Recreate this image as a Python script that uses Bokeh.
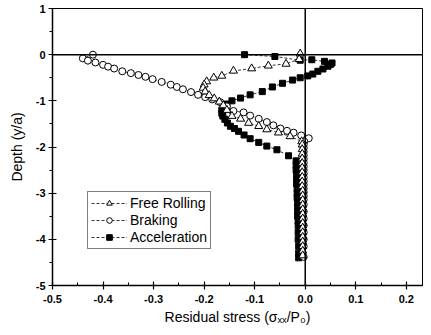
from bokeh.plotting import figure
from bokeh.models import Range1d, FixedTicker, Span, Legend, LegendItem
from bokeh.embed import file_html
from bokeh.resources import INLINE

# ---------------- data ----------------
fr_x = [-0.010, -0.012, -0.038, -0.073, -0.106, -0.142, -0.165, -0.181, -0.195, -0.200,
        -0.202, -0.198, -0.190, -0.180, -0.170, -0.162, -0.155, -0.145, -0.128, -0.112,
        -0.092, -0.076, -0.053, -0.030, -0.007, -0.006, -0.006, -0.006, -0.006, -0.006,
        -0.006, -0.006, -0.006, -0.006, -0.006, -0.005, -0.005, -0.005, -0.005, -0.005,
        -0.005, -0.005, -0.005, -0.005, -0.005, -0.005, -0.005, -0.005, -0.005, -0.005]
fr_y = [0.02, -0.10, -0.20, -0.24, -0.30, -0.35, -0.46, -0.50, -0.58, -0.65,
        -0.72, -0.80, -0.88, -0.95, -1.02, -1.10, -1.20, -1.33, -1.39, -1.48,
        -1.55, -1.62, -1.69, -1.77, -1.88, -1.95, -2.05, -2.15, -2.25, -2.35,
        -2.45, -2.55, -2.65, -2.75, -2.85, -2.95, -3.05, -3.15, -3.25, -3.35,
        -3.45, -3.55, -3.65, -3.75, -3.85, -3.95, -4.05, -4.15, -4.25, -4.35]

br_x = [-0.420, -0.440, -0.430, -0.415, -0.400, -0.390, -0.378, -0.362, -0.345, -0.330,
        -0.316, -0.302, -0.284, -0.266, -0.254, -0.242, -0.226, -0.212, -0.198, -0.184,
        -0.168, -0.155, -0.142, -0.122, -0.109, -0.092, -0.076, -0.063, -0.049, -0.036,
        -0.023, -0.008, 0.007, -0.002, -0.003, -0.003, -0.003, -0.003, -0.003, -0.003,
        -0.003, -0.003, -0.003, -0.003, -0.003, -0.003, -0.003, -0.003, -0.003, -0.003,
        -0.003, -0.003, -0.003, -0.003, -0.003, -0.003, -0.003, -0.003]
br_y = [0.00, -0.08, -0.13, -0.17, -0.22, -0.26, -0.30, -0.36, -0.40, -0.44,
        -0.48, -0.53, -0.59, -0.65, -0.70, -0.75, -0.81, -0.87, -0.92, -0.97,
        -1.03, -1.12, -1.22, -1.25, -1.32, -1.39, -1.46, -1.53, -1.60, -1.65,
        -1.69, -1.75, -1.81, -1.88, -1.95, -2.02, -2.10, -2.18, -2.26, -2.34,
        -2.42, -2.50, -2.58, -2.66, -2.74, -2.82, -2.90, -2.98, -3.06, -3.14,
        -3.25, -3.40, -3.55, -3.70, -3.85, -4.00, -4.15, -4.38]

ac_x = [-0.120, -0.060, -0.010, 0.013, 0.038, 0.053, 0.050, 0.045, 0.035, 0.025,
        0.015, 0.005, -0.010, -0.025, -0.045, -0.065, -0.085, -0.109, -0.128, -0.145,
        -0.155, -0.162, -0.165, -0.165, -0.163, -0.159, -0.154, -0.148, -0.140, -0.132,
        -0.121, -0.109, -0.092, -0.076, -0.056, -0.033, -0.018, -0.018, -0.018, -0.017,
        -0.017, -0.017, -0.016, -0.016, -0.016, -0.015, -0.015, -0.015, -0.015, -0.014,
        -0.014, -0.014, -0.014, -0.013, -0.013, -0.013]
ac_y = [0.00, -0.04, -0.12, -0.11, -0.145, -0.18, -0.21, -0.25, -0.31, -0.36,
        -0.42, -0.46, -0.50, -0.55, -0.62, -0.70, -0.80, -0.87, -0.94, -1.00,
        -1.07, -1.13, -1.20, -1.27, -1.33, -1.40, -1.48, -1.55, -1.60, -1.66,
        -1.74, -1.82, -1.90, -1.98, -2.06, -2.19, -2.30, -2.40, -2.50, -2.60,
        -2.70, -2.80, -2.90, -3.00, -3.10, -3.20, -3.30, -3.40, -3.50, -3.60,
        -3.70, -3.85, -4.00, -4.15, -4.30, -4.40]

x_ticks = [-0.5, -0.4, -0.3, -0.2, -0.1, 0.0, 0.1, 0.2]
x_tick_labels = ["-0.5", "-0.4", "-0.3", "-0.2", "-0.1", "0.0", "0.1", "0.2"]
y_ticks = [1, 0, -1, -2, -3, -4, -5]
y_tick_labels = ["1", "0", "-1", "-2", "-3", "-4", "-5"]
x_minor = [-0.45, -0.35, -0.25, -0.15, -0.05, 0.05, 0.15]
y_minor = [0.5, -0.5, -1.5, -2.5, -3.5, -4.5]

series_names = ["Free Rolling", "Braking", "Acceleration"]

# ---------------- figure ----------------
FONT = "Liberation Sans"
p = figure(width=423, height=327, output_backend="svg", toolbar_location=None,
           x_range=Range1d(-0.5, 0.232), y_range=Range1d(-5, 1),
           min_border_left=52, min_border_right=1, min_border_top=8, min_border_bottom=41)
p.background_fill_color = "white"
p.border_fill_color = "white"
p.outline_line_color = "black"
p.outline_line_width = 1
p.xgrid.visible = False
p.ygrid.visible = False

p.xaxis.ticker = FixedTicker(ticks=x_ticks, minor_ticks=x_minor)
p.yaxis.ticker = FixedTicker(ticks=y_ticks, minor_ticks=y_minor)
p.xaxis.major_label_overrides = {t: l for t, l in zip(x_ticks, x_tick_labels)}
p.yaxis.major_label_overrides = {t: l for t, l in zip(y_ticks, y_tick_labels)}

for ax in (p.xaxis[0], p.yaxis[0]):
    ax.axis_line_color = "black"
    ax.axis_line_width = 1.5
    ax.major_tick_line_color = "black"
    ax.major_tick_line_width = 1.2
    ax.major_tick_in = 4
    ax.major_tick_out = 4
    ax.minor_tick_line_color = "black"
    ax.minor_tick_line_width = 1
    ax.major_label_text_font = FONT
    ax.major_label_text_font_style = "bold"
    ax.major_label_text_font_size = "11px"
    ax.major_label_text_color = "black"
    ax.axis_label_text_font = FONT
    ax.axis_label_text_font_style = "normal"
    ax.axis_label_text_font_size = "14px"
    ax.axis_label_text_color = "black"

p.xaxis.minor_tick_in = 3
p.xaxis.minor_tick_out = 0
p.yaxis.minor_tick_in = 0
p.yaxis.minor_tick_out = 3
p.xaxis.major_label_standoff = 5
p.yaxis.major_label_standoff = 3
p.xaxis.axis_label = "Residual stress (σₓₓ/P₀)"
p.yaxis.axis_label = "Depth (y/a)"
p.xaxis.axis_label_standoff = 3
p.yaxis.axis_label_standoff = 8

p.add_layout(Span(location=0, dimension="width", line_color="black", line_width=1.5))
p.add_layout(Span(location=0, dimension="height", line_color="black", line_width=1.5))

dash = "3 2"
l_br = p.line(br_x, br_y, line_color="black", line_width=0.8, line_dash=dash)
l_fr = p.line(fr_x, fr_y, line_color="black", line_width=0.8, line_dash=dash)
l_ac = p.line(ac_x, ac_y, line_color="black", line_width=0.8, line_dash=dash)

s_ac = p.scatter(ac_x, ac_y, marker="square", size=6, fill_color="black", line_color="black")
s_br = p.scatter(br_x, br_y, marker="circle", size=7, fill_color="white", line_color="black", line_width=1)
s_fr = p.scatter(fr_x, fr_y, marker="triangle", size=8, fill_color="white", line_color="black", line_width=1)

legend = Legend(items=[
    LegendItem(label=series_names[0], renderers=[l_fr, s_fr]),
    LegendItem(label=series_names[1], renderers=[l_br, s_br]),
    LegendItem(label=series_names[2], renderers=[l_ac, s_ac]),
], location=(35, 36))
legend.border_line_color = "black"
legend.border_line_width = 1
legend.background_fill_alpha = 1
legend.label_text_font = FONT
legend.label_text_font_size = "14px"
legend.label_text_color = "black"
legend.glyph_width = 36
legend.glyph_height = 14
legend.label_height = 14
legend.spacing = 1
legend.padding = 3
legend.margin = 0
legend.label_standoff = 3
p.add_layout(legend, "center")

open("out.html", "w").write(file_html(p, INLINE))
